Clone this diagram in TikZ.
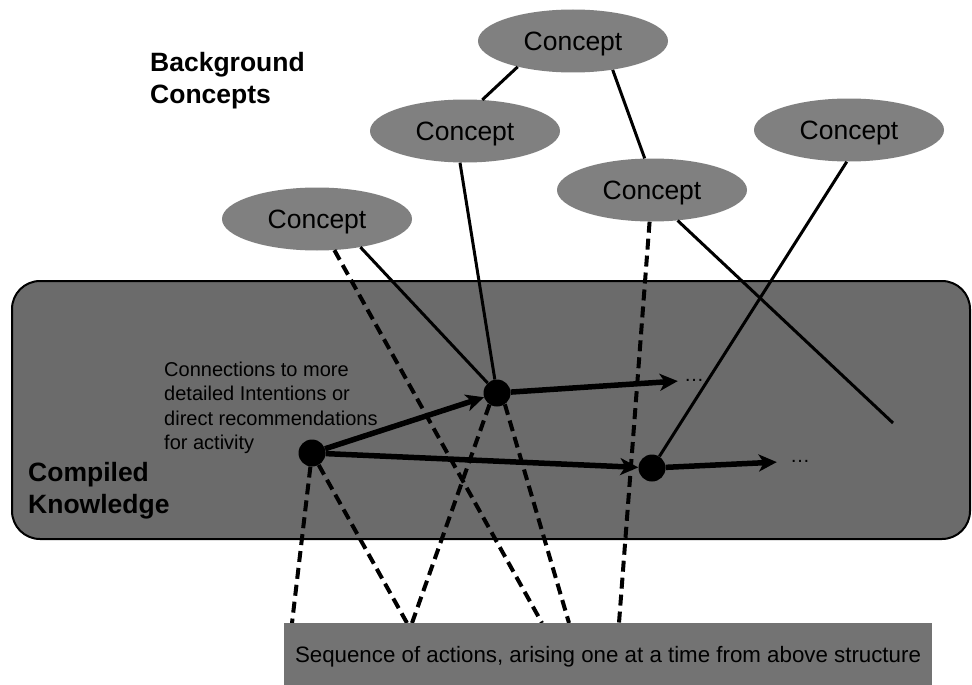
\documentclass[tikz,border=0pt]{standalone}
\usepackage{fontspec}
\setmainfont{Liberation Sans}
\usetikzlibrary{arrows.meta}
\usetikzlibrary{shapes.geometric}
\definecolor{conceptgray}{RGB}{128,128,128}
\definecolor{boxgray}{RGB}{107,107,107}
\definecolor{seqgray}{RGB}{115,115,115}

\begin{document}
\begin{tikzpicture}[x=1pt,y=-1pt,
  concept/.style={ellipse,fill=conceptgray,minimum width=190pt,minimum height=63pt,inner sep=0pt,text depth=0pt,font=\fontsize{26.5}{32}\selectfont},
  knot/.style={circle,fill=black,minimum size=27pt,inner sep=0pt},
  heading/.style={anchor=west,align=left,inner sep=0pt,font=\bfseries\fontsize{26.5}{32}\selectfont},
  link/.style={line width=3pt},
  trace/.style={line width=4pt,dash pattern=on 11pt off 6pt},
  flow/.style={line width=5.5pt,-{Stealth[length=18pt,width=17pt,inset=5pt]}},
  more/.style={font=\fontsize{20}{24}\selectfont}
  ]
\useasboundingbox (0,0) rectangle (972,685);
\fill[white] (0,0) rectangle (972,685);

% compiled knowledge
\draw[line width=2pt,fill=boxgray,rounded corners=28pt] (12,281) rectangle (970,539);

\node[concept] (c1) at (573,41) {Concept};
\node[concept] (c2) at (465,131) {Concept};
\node[concept] (c3) at (317,219) {Concept};
\node[concept] (c4) at (652,190) {Concept};
\node[concept] (c5) at (849,130) {Concept};

\node[heading] (bg) at (150,81) {Background\\Concepts};
\node[heading] (ck) at (28,491) {Compiled\\Knowledge};
\node[anchor=west,align=left,inner sep=0pt,font=\fontsize{20}{24.4}\selectfont] (note) at (164,408)
  {Connections to more\\detailed Intentions or\\direct recommendations\\for activity};

\node[knot] (k1) at (312,453) {};
\node[knot] (k2) at (497,393) {};
\node[knot] (k3) at (652,468) {};

\node[more,inner sep=6pt] (d1) at (694,380) {\ldots};
\node[more,inner sep=13pt] (d2) at (800,461) {\ldots};

\coordinate (s1) at (292,623);
\coordinate (s2) at (407,623);
\coordinate (s3) at (412,623);
\coordinate (s4) at (542,623);
\coordinate (s5) at (569,623);
\coordinate (s6) at (619,623);
\coordinate (loose) at (893,423);

% background links
\draw[link] (c1.205) -- (c2.61);
\draw[link] (c1.324) -- (c4.103);
\draw[link] (c2.261) -- (k2);
\draw[link] (c3.327) -- (k2);
\draw[link] (c4.310) -- (loose);
\draw[link] (c5.266) -- (k3);

% traces down to the actions
\draw[trace] (k1) -- (s1);
\draw[trace] (k1) -- (s2);
\draw[trace] (k2.237) -- (s3);
\draw[trace] (k2.305) -- (s5);
\draw[trace] (c3) -- (s4);
\draw[trace] (c4) -- (s6);

\draw[flow] (k1) -- (k2);
\draw[flow] (k1) -- (k3);
\draw[flow] (k2) -- (d1);
\draw[flow] (k3) -- (d2);

\node[fill=seqgray,minimum width=648pt,minimum height=62pt,inner sep=0pt,text depth=0pt,
  font=\fontsize{22.3}{26}\selectfont] (seq) at (608,654)
  {Sequence of actions, arising one at a time from above structure};
\end{tikzpicture}
\end{document}
